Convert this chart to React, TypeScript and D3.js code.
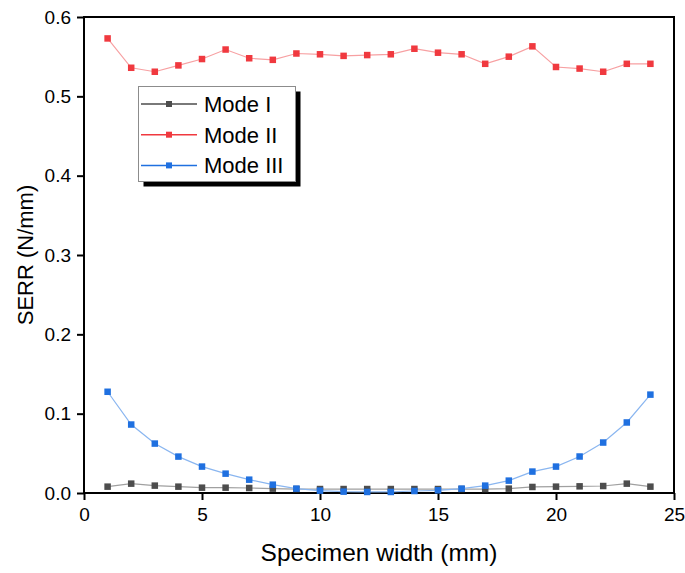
import React, { useEffect, useRef } from "react";
import * as d3 from "d3";

// specimen width positions (mm)
const widths = [1, 2, 3, 4, 5, 6, 7, 8, 9, 10, 11, 12, 13, 14, 15, 16, 17, 18, 19, 20, 21, 22, 23, 24];

const modeI = [0.008, 0.0118, 0.0093, 0.008, 0.0067, 0.0067, 0.0063, 0.0055, 0.005, 0.005, 0.005, 0.005, 0.005, 0.005, 0.005, 0.005, 0.005, 0.0055, 0.0076, 0.008, 0.0084, 0.0088, 0.0118, 0.008];
const modeII = [0.573, 0.536, 0.531, 0.539, 0.547, 0.559, 0.548, 0.546, 0.554, 0.553, 0.551, 0.552, 0.553, 0.56, 0.555, 0.553, 0.541, 0.55, 0.563, 0.537, 0.535, 0.531, 0.541, 0.541];
const modeIII = [0.1276, 0.0863, 0.0623, 0.0459, 0.0333, 0.0244, 0.0168, 0.0105, 0.0055, 0.003, 0.0017, 0.0013, 0.0013, 0.0025, 0.0034, 0.0055, 0.0093, 0.0156, 0.027, 0.0333, 0.046, 0.0636, 0.0889, 0.124];

const seriesNames = ["Mode I", "Mode II", "Mode III"];
const markerColors = ["#4d4d4d", "#f0393f", "#1f70e0"];
const lineColors = ["#a0a0a0", "#f7a0a2", "#8ab6f0"];

const xTicks = [0, 5, 10, 15, 20, 25];
const yTicks = [0, 0.1, 0.2, 0.3, 0.4, 0.5, 0.6];

const App = () => {
    const svgRef = useRef(null);

    useEffect(() => {
        const width = 685;
        const height = 573;
        const margin = { left: 84, right: 11, top: 17, bottom: 80 };

        const svg = d3.select(svgRef.current).attr("width", width).attr("height", height);
        svg.selectAll("*").remove();

        const x = d3.scaleLinear().domain([0, 25]).range([margin.left, width - margin.right]);
        const y = d3.scaleLinear().domain([0, 0.6]).range([height - margin.bottom, margin.top]);

        const font = "'Liberation Sans', Arial, sans-serif";

        // frame (top + right)
        svg.append("path")
            .attr("d", `M${x(0)},${y(0.6)} H${x(25)} V${y(0)}`)
            .attr("fill", "none")
            .attr("stroke", "#000")
            .attr("stroke-width", 2);

        // x axis
        const xAxis = svg.append("g").attr("transform", `translate(0,${y(0)})`);
        xAxis.call(
            d3.axisBottom(x).tickValues(d3.range(0, 25.01, 2.5)).tickSize(4).tickFormat(() => "")
        );
        xAxis.call(
            d3.axisBottom(x).tickValues(xTicks).tickSize(7).tickPadding(8).tickFormat(d3.format("d"))
        );
        xAxis.selectAll("path").attr("stroke-width", 2).attr("d", `M${x(0) - 1},0H${x(25) + 1}`);
        xAxis.selectAll("line").attr("stroke-width", 2);
        xAxis.selectAll("text").attr("font-family", font).attr("font-size", 19).attr("fill", "#000");

        // y axis
        const yAxis = svg.append("g").attr("transform", `translate(${x(0)},0)`);
        yAxis.call(
            d3.axisLeft(y).tickValues(d3.range(0, 0.601, 0.05)).tickSize(4).tickFormat(() => "")
        );
        yAxis.call(
            d3.axisLeft(y).tickValues(yTicks).tickSize(7).tickPadding(6).tickFormat(d3.format(".1f"))
        );
        yAxis.selectAll("path").attr("stroke-width", 2).attr("d", `M0,${y(0) + 1}V${y(0.6) - 1}`);
        yAxis.selectAll("line").attr("stroke-width", 2);
        yAxis.selectAll("text").attr("font-family", font).attr("font-size", 19).attr("fill", "#000");

        // axis titles
        svg.append("text")
            .attr("x", (x(0) + x(25)) / 2)
            .attr("y", 561)
            .attr("text-anchor", "middle")
            .attr("font-family", font)
            .attr("font-size", 24.5)
            .text("Specimen width (mm)");

        svg.append("text")
            .attr("transform", `translate(33,${(y(0) + y(0.6)) / 2}) rotate(-90)`)
            .attr("text-anchor", "middle")
            .attr("font-family", font)
            .attr("font-size", 22)
            .text("SERR (N/mm)");

        const allSeries = [modeI, modeII, modeIII];
        const line = d3.line().x((d) => x(d[0])).y((d) => y(d[1]));
        const ms = 6.5;

        allSeries.forEach((vals, i) => {
            const pts = widths.map((w, j) => [w, vals[j]]);
            svg.append("path")
                .datum(pts)
                .attr("d", line)
                .attr("fill", "none")
                .attr("stroke", lineColors[i])
                .attr("stroke-width", 1.2);
            svg.append("g")
                .selectAll("rect")
                .data(pts)
                .join("rect")
                .attr("x", (d) => x(d[0]) - ms / 2)
                .attr("y", (d) => y(d[1]) - ms / 2)
                .attr("width", ms)
                .attr("height", ms)
                .attr("fill", markerColors[i]);
        });

        // legend with drop shadow
        const lg = { x: 138.5, y: 86.5, w: 157, h: 95 };
        svg.append("rect")
            .attr("x", lg.x + 5)
            .attr("y", lg.y + 5)
            .attr("width", lg.w)
            .attr("height", lg.h)
            .attr("fill", "#000");
        svg.append("rect")
            .attr("x", lg.x)
            .attr("y", lg.y)
            .attr("width", lg.w)
            .attr("height", lg.h)
            .attr("fill", "#fff")
            .attr("stroke", "#8c8c8c")
            .attr("stroke-width", 1);

        seriesNames.forEach((name, i) => {
            const ry = 104 + i * 30.7;
            svg.append("line")
                .attr("x1", 141)
                .attr("x2", 197)
                .attr("y1", ry)
                .attr("y2", ry)
                .attr("stroke", markerColors[i])
                .attr("stroke-width", 1.5);
            svg.append("rect")
                .attr("x", 169 - 3)
                .attr("y", ry - 3)
                .attr("width", 6)
                .attr("height", 6)
                .attr("fill", markerColors[i]);
            svg.append("text")
                .attr("x", 204)
                .attr("y", ry + 8)
                .attr("font-family", font)
                .attr("font-size", 22)
                .text(name);
        });
    }, []);

    return (
        <div style={{ position: "absolute", left: 0, top: 0 }}>
            <svg ref={svgRef}></svg>
        </div>
    );
};

export default App;
